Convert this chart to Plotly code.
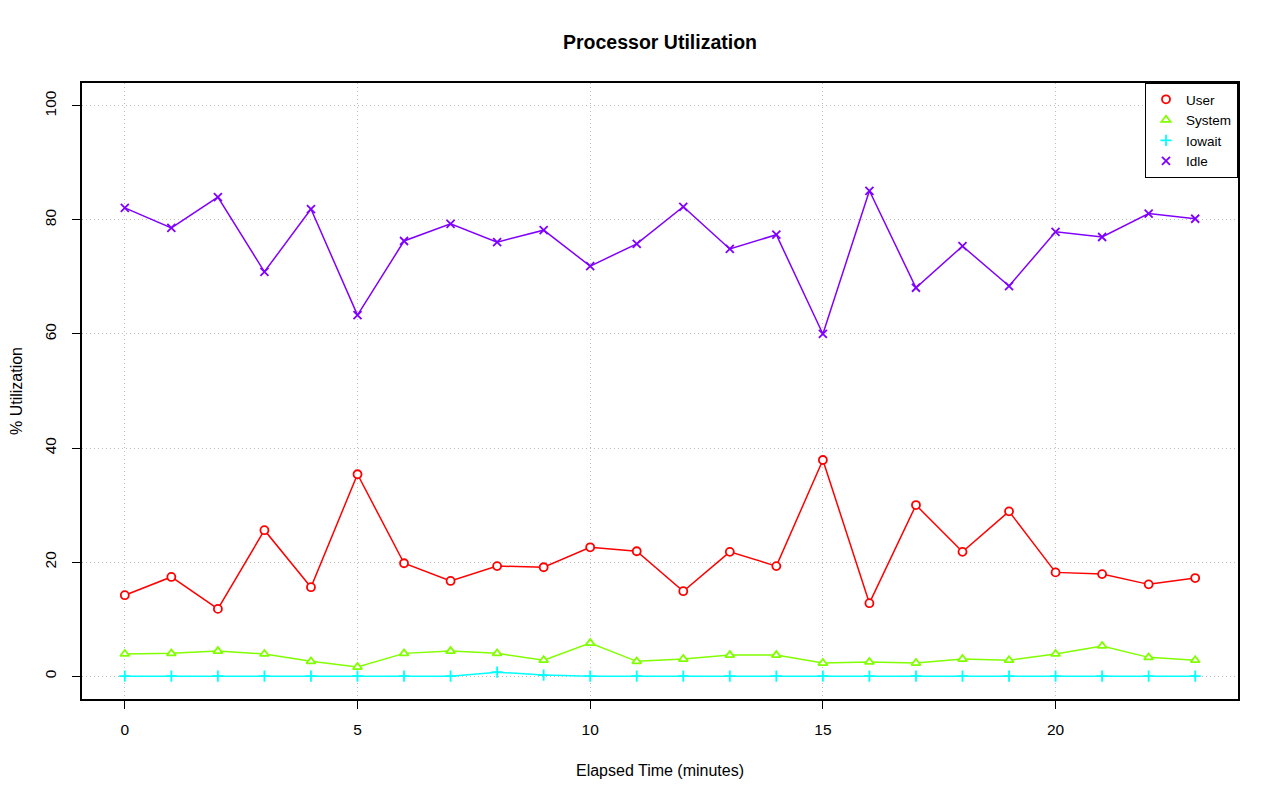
import plotly.graph_objects as go

minutes = list(range(24))
user = [14.2, 17.4, 11.8, 25.6, 15.6, 35.4, 19.8, 16.7, 19.3, 19.1, 22.6, 21.9,
        14.9, 21.8, 19.3, 37.9, 12.8, 30.0, 21.8, 28.9, 18.2, 17.9, 16.1, 17.2]
system = [3.9, 4.0, 4.4, 3.9, 2.6, 1.6, 4.0, 4.4, 4.0, 2.8, 5.8, 2.6,
          3.0, 3.7, 3.7, 2.3, 2.5, 2.3, 3.0, 2.8, 3.9, 5.3, 3.3, 2.8]
iowait = [0.0, 0.0, 0.0, 0.0, 0.0, 0.0, 0.0, 0.0, 0.7, 0.2, 0.0, 0.0,
          0.0, 0.0, 0.0, 0.0, 0.0, 0.0, 0.0, 0.0, 0.0, 0.0, 0.0, 0.0]
idle = [82.1, 78.6, 84.0, 70.9, 81.9, 63.3, 76.3, 79.3, 76.1, 78.2, 71.9, 75.8,
        82.3, 74.9, 77.4, 60.0, 85.1, 68.1, 75.4, 68.4, 77.9, 77.0, 81.1, 80.2]

series = [
    ("User", user, "#FF0000", "circle", "white"),
    ("System", system, "#80FF00", "triangle-up", "white"),
    ("Iowait", iowait, "#00FFFF", "cross-thin-open", None),
    ("Idle", idle, "#8000FF", "x-thin-open", None),
]

fig = go.Figure()
for name, vals, color, sym, fill in series:
    fig.add_trace(go.Scatter(
        x=minutes, y=vals, mode="lines+markers", name=name, showlegend=False,
        line=dict(color=color, width=1.5),
        marker=dict(symbol=sym, size=8, color=fill or color, line=dict(color=color, width=1.8)),
    ))
for name, vals, color, sym, fill in series:
    fig.add_trace(go.Scatter(
        x=[None], y=[None], mode="markers", name=name, showlegend=True,
        marker=dict(symbol=sym, size=8, color=fill or color, line=dict(color=color, width=1.8)),
    ))

# page body has an 8px offset; compensate so the plot box lands at 82..1238 x 83..699
W, H = 1272, 793
font_family = "Liberation Sans, Arial, sans-serif"
fig.update_layout(
    width=W, height=H,
    paper_bgcolor="white", plot_bgcolor="white",
    margin=dict(l=74, r=42, t=75, b=102),
    font=dict(family=font_family, size=15, color="black"),
    title=dict(text="<b>Processor Utilization</b>", x=(74 + 1230) / 2 / W, xanchor="center",
               y=1 - 34 / H, yanchor="middle", font=dict(size=19.5, family=font_family)),
    showlegend=True,
    legend=dict(x=1, y=1, xanchor="right", yanchor="top", bgcolor="white",
                bordercolor="black", borderwidth=1, font=dict(size=13.5),
                tracegroupgap=0, itemwidth=30),
)
grid_dash = "1px,3px"
fig.update_xaxes(
    range=[-0.92, 23.92], tickvals=[0, 5, 10, 15, 20], ticks="outside", ticklen=8,
    tickcolor="black", showline=True, linecolor="black", linewidth=1.5, mirror=True,
    showgrid=True, gridcolor="#BEBEBE", griddash=grid_dash, gridwidth=1.2, zeroline=False,
    ticklabelstandoff=8, automargin=False,
    title=dict(text="Elapsed Time (minutes)", standoff=27, font=dict(size=16)),
    tickfont=dict(size=15.5),
)
fig.update_yaxes(
    range=[-4, 104], tickvals=[0, 20, 40, 60, 80, 100], ticks="outside", ticklen=8,
    tickcolor="black", showline=True, linecolor="black", linewidth=1.5, mirror=True,
    showgrid=True, gridcolor="#BEBEBE", griddash=grid_dash, gridwidth=1.2, zeroline=False,
    tickangle=-90, tickfont=dict(size=15.5), ticklabelstandoff=10, automargin=False,
    title=dict(text="% Utilization", standoff=27, font=dict(size=16)),
)
fig.write_html("out.html")
